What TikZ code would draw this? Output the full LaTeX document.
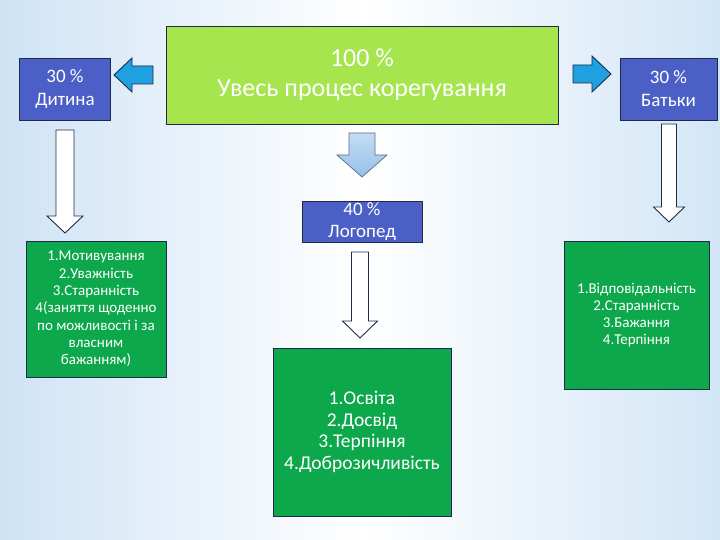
\documentclass[tikz,border=0pt]{standalone}
\usepackage{fontspec}
\setmainfont{Carlito}
\definecolor{bgL}{HTML}{CFE3F5}
\definecolor{bgR}{HTML}{D3E6F6}
\definecolor{boxblue}{HTML}{4B5FC6}
\definecolor{limegreen}{HTML}{A6E54D}
\definecolor{darkgreen}{HTML}{0DA84B}
\definecolor{arrowblue}{HTML}{1FA0E0}
\definecolor{lightA}{HTML}{C4DDF5}
\definecolor{lightB}{HTML}{96C0EA}
\definecolor{edge}{HTML}{1E2B48}
\newcommand\blkdown[7]{%
 \draw[#1] (#2-#6,#3) -- (#2+#6,#3) -- (#2+#6,#4) -- (#2+#7,#4) -- (#2,#5) -- (#2-#7,#4) -- (#2-#6,#4) -- cycle;}
\newcommand\blkside[7]{%
 \draw[#1] (#3,#2-#6) -- (#4,#2-#6) -- (#4,#2-#7) -- (#5,#2) -- (#4,#2+#7) -- (#4,#2+#6) -- (#3,#2+#6) -- cycle;}
\begin{document}
\begin{tikzpicture}[x=1pt,y=-1pt,
  box/.style={draw=edge, line width=0.8pt, text=white, align=center, inner sep=0pt},
  bluebox/.style={box, fill=boxblue, font=\fontsize{19}{23}\selectfont},
  limebox/.style={box, fill=limegreen, font=\fontsize{26}{30}\selectfont},
  greenbox/.style={box, fill=darkgreen},
  smalltext/.style={font=\fontsize{15}{17.3}\selectfont},
  bigtext/.style={font=\fontsize{19.5}{21.7}\selectfont},
  whitearrow/.style={draw=edge, line width=0.9pt, fill=white, line join=miter},
  bluearrow/.style={draw=edge, line width=0.9pt, fill=arrowblue, line join=miter},
  lightarrow/.style={draw=edge!70, line width=0.7pt, top color=lightA, bottom color=lightB, line join=miter}]
\useasboundingbox (0,0) rectangle (720,540);
\shade[left color=bgL, right color=white] (0,0) rectangle (361,540);
\shade[left color=white, right color=bgR] (360,0) rectangle (720,540);

\node[limebox, minimum width=392pt, minimum height=98pt] (all) at (362,75) {100 \%\\Увесь процес корегування};
\node[bluebox, minimum width=91pt, minimum height=62pt] (child) at (65,89) {30 \%\\Дитина};
\node[bluebox, minimum width=97pt, minimum height=62pt] (parents) at (668.5,89) {30 \%\\Батьки};
\node[bluebox, minimum width=120pt, minimum height=41pt, font=\fontsize{19}{22}\selectfont] (speech) at (362,221.5) {40 \%\\Логопед};
\node[greenbox, smalltext, minimum width=140pt, minimum height=136pt] (childlist) at (96,309)
  {1.Мотивування\\2.Уважність\\3.Старанність\\4(заняття щоденно\\по можливості і за\\власним\\бажанням)};
\node[greenbox, smalltext, minimum width=145pt, minimum height=148pt] (parentlist) at (636.5,315)
  {1.Відповідальність\\2.Старанність\\3.Бажання\\4.Терпіння};
\node[greenbox, bigtext, minimum width=178pt, minimum height=168pt] (speechlist) at (362,432)
  {1.Освіта\\2.Досвід\\3.Терпіння\\4.Доброзичливість};

\blkside{bluearrow}{75}{153}{132}{114}{9}{17}
\blkside{bluearrow}{74}{573}{592}{611}{9}{18}
\blkdown{whitearrow}{65}{130}{216}{233}{9}{18}
\blkdown{lightarrow}{362}{133}{155}{177}{13}{25}
\blkdown{whitearrow}{360}{252}{321}{338}{8.5}{17.5}
\blkdown{whitearrow}{669}{124}{207}{222}{7.5}{15.5}
\end{tikzpicture}
\end{document}
